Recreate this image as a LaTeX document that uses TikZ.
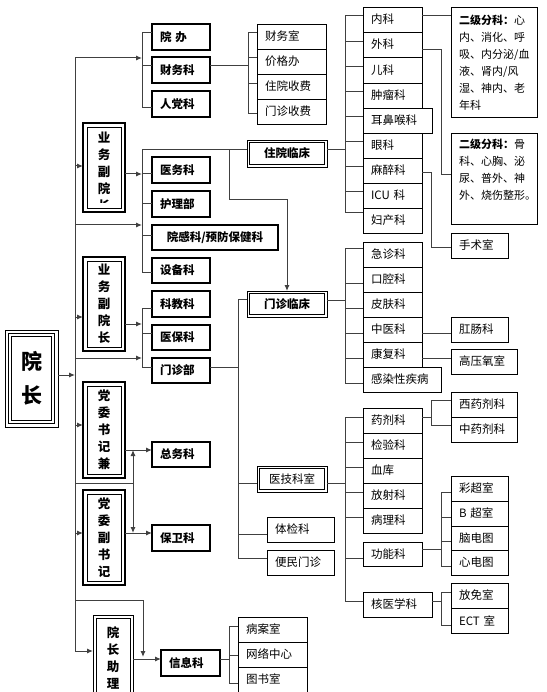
\documentclass[tikz,border=0pt]{standalone}
\usepackage{fontspec}
\setmainfont{Noto Sans CJK SC}
\usetikzlibrary{arrows.meta}
\tikzset{
 ln/.style={draw=black!75, line width=1pt},
 arr/.style={ln, -{Latex[length=6pt,width=5pt]}},
 darr/.style={ln, {Latex[length=6pt,width=5pt]}-{Latex[length=6pt,width=5pt]}},
 bx/.style={draw=black, fill=white, anchor=north west, inner ysep=0pt, inner xsep=8pt, outer sep=0pt, align=left, font=\fontsize{11.5}{13}\selectfont},
 thinbox/.style={bx, line width=0.8pt},
 thickbox/.style={bx, line width=2pt, font=\fontsize{11.5}{13}\selectfont\bfseries},
 thickboxc/.style={thickbox, align=center},
 dblbox/.style={bx, line width=0.8pt, align=center, font=\fontsize{11.5}{13}\selectfont\bfseries},
 dblboxn/.style={bx, line width=0.8pt, align=center},
 vbox/.style={draw=black, fill=white, anchor=north west, inner sep=0pt, outer sep=0pt, line width=2pt, align=center, font=\fontsize{12.5}{17}\selectfont\bfseries},
 zlbox/.style={vbox, line width=0.8pt},
 yzbox/.style={vbox, line width=1pt, font=\fontsize{21}{34}\selectfont\bfseries},
 vtext/.style={inner sep=0pt, align=center, font=\fontsize{12.5}{17}\selectfont\bfseries},
 ejtext/.style={anchor=north west, inner sep=0pt, align=left, font=\fontsize{11}{17}\selectfont},
}
\newcommand\mkbox[7]{%
 \pgfmathsetmacro\myBW{#5-#3-16}\pgfmathsetmacro\myBH{#6-#4}%
 \node[#1, text width=\myBW pt, minimum height=\myBH pt] (#2) at (#3,#4) {#7};}
\newcommand\mkvbox[7]{%
 \pgfmathsetmacro\myBW{#5-#3}\pgfmathsetmacro\myBH{#6-#4}%
 \node[#1, minimum width=\myBW pt, minimum height=\myBH pt] (#2) at (#3,#4) {#7};}
\newcommand\inrect[3]{\draw[line width=#3] ([xshift=#2,yshift=-#2]#1.north west) rectangle ([xshift=-#2,yshift=#2]#1.south east);}
\newcommand\tk[4]{\coordinate (#1) at (#2,#3);\draw[ln] (#1) -- (#1 -| #4.west);}
\newcommand\ta[4]{\coordinate (#1) at (#2,#3);\draw[arr] (#1) -- (#1 -| #4.west);}

\begin{document}
\begin{tikzpicture}[x=1pt,y=-1pt]
\fill[white] (0,0) rectangle (546,692);
\useasboundingbox (0,0) rectangle (546,692);

% ---------- left column ----------
\mkvbox{yzbox}{yz}{5}{330}{58}{427}{院\\长}
\inrect{yz}{3.5pt}{1.8pt}
\inrect{yz}{6.5pt}{0.7pt}

\mkvbox{vbox}{vp1}{83}{123}{125}{212}{}
\inrect{vp1}{4pt}{0.8pt}
\begin{scope}
 \clip (87,127) rectangle (121,203);
 \node[vtext] (vp1t) at (104,172) {业\\务\\副\\院\\长};
\end{scope}
\mkvbox{vbox}{vp2}{83}{257}{125}{351}{业\\务\\副\\院\\长}
\inrect{vp2}{4pt}{0.8pt}
\mkvbox{vbox}{dw1}{83}{382}{125}{478}{党\\委\\书\\记\\兼}
\inrect{dw1}{4pt}{0.8pt}
\mkvbox{vbox}{dw2}{83}{490}{125}{585}{党\\委\\副\\书\\记}
\inrect{dw2}{4pt}{0.8pt}
\mkvbox{zlbox}{zl}{93}{615}{133}{700}{院\\长\\助\\理}
\inrect{zl}{3pt}{0.8pt}

% ---------- thick boxes ----------
\mkbox{thickbox}{yb}{152}{24}{210}{50}{院 办}
\mkbox{thickbox}{cwk}{152}{57}{210}{83}{财务科}
\mkbox{thickbox}{rdk}{152}{91}{210}{117}{人党科}
\mkbox{thickbox}{ywk}{152}{157}{210}{183}{医务科}
\mkbox{thickbox}{hlb}{152}{191}{210}{217}{护理部}
\mkbox{thickboxc}{ygk}{152}{225}{278}{250}{院感科/预防保健科}
\mkbox{thickbox}{sbk}{152}{258}{210}{283}{设备科}
\mkbox{thickbox}{kjk}{152}{291}{210}{317}{科教科}
\mkbox{thickbox}{ybk}{152}{325}{210}{350}{医保科}
\mkbox{thickbox}{mzb}{152}{358}{210}{383}{门诊部}
\mkbox{thickbox}{zwk}{152}{442}{210}{467}{总务科}
\mkbox{thickbox}{bwk}{152}{525}{210}{551}{保卫科}
\mkbox{thickbox}{xxk}{161}{650}{220}{676}{信息科}

% ---------- finance ----------
\mkbox{thinbox}{cws}{257}{24}{326}{49}{财务室}
\mkbox{thinbox}{jgb}{257}{49}{326}{74}{价格办}
\mkbox{thinbox}{zysf}{257}{74}{326}{99}{住院收费}
\mkbox{thinbox}{mzsf}{257}{99}{326}{124}{门诊收费}

% ---------- double boxes ----------
\mkbox{dblbox}{zylc}{247}{140}{327}{167}{住院临床}
\inrect{zylc}{2.8pt}{0.8pt}
\mkbox{dblbox}{mzlc}{247}{291}{327}{317}{门诊临床}
\inrect{mzlc}{2.8pt}{0.8pt}
\mkbox{dblboxn}{yjks}{257}{466}{327}{492}{医技科室}
\inrect{yjks}{2.8pt}{0.8pt}
\mkbox{thinbox}{tjk}{267}{517}{334}{542}{体检科}
\mkbox{thinbox}{bmmz}{267}{550}{334}{575}{便民门诊}

% ---------- inpatient ----------
\mkbox{thinbox}{nk}{363}{7}{422}{32}{内科}
\mkbox{thinbox}{wk}{363}{32}{422}{57}{外科}
\mkbox{thinbox}{ek}{363}{57}{422}{83}{儿科}
\mkbox{thinbox}{zlk}{363}{83}{422}{108}{肿瘤科}
\mkbox{thinbox}{yk}{363}{133}{422}{158}{眼科}
\mkbox{thinbox}{mzk}{363}{158}{422}{183}{麻醉科}
\mkbox{thinbox}{icu}{363}{183}{422}{208}{ICU 科}
\mkbox{thinbox}{fck}{363}{208}{422}{233}{妇产科}
\mkbox{thinbox}{ebh}{363}{108}{432}{133}{耳鼻喉科}
\mkbox{thinbox}{ej1}{451}{7}{537}{117}{}
\node[ejtext] (ej1t) at (459,15) {\textbf{二级分科：}心\\内、消化、呼\\吸、内分泌/血\\液、肾内/风\\湿、神内、老\\年科};
\mkbox{thinbox}{ej2}{451}{133}{537}{224}{}
\node[ejtext] (ej2t) at (459,139) {\textbf{二级分科：}骨\\科、心胸、泌\\尿、普外、神\\外、烧伤整形。};
\mkbox{thinbox}{sss}{451}{233}{508}{258}{手术室}

% ---------- outpatient ----------
\mkbox{thinbox}{jzk}{363}{242}{422}{267}{急诊科}
\mkbox{thinbox}{kqk}{363}{267}{422}{292}{口腔科}
\mkbox{thinbox}{pfk}{363}{292}{422}{317}{皮肤科}
\mkbox{thinbox}{zyk}{363}{317}{422}{342}{中医科}
\mkbox{thinbox}{kfk}{363}{342}{422}{367}{康复科}
\mkbox{thinbox}{crx}{363}{367}{441}{392}{感染性疾病}
\mkbox{thinbox}{gck}{451}{317}{508}{342}{肛肠科}
\mkbox{thinbox}{gyys}{451}{349}{517}{374}{高压氧室}

% ---------- medical technology ----------
\mkbox{thinbox}{yjk}{363}{408}{422}{433}{药剂科}
\mkbox{thinbox}{jyk}{363}{433}{422}{458}{检验科}
\mkbox{thinbox}{xk}{363}{458}{422}{483}{血库}
\mkbox{thinbox}{fsk}{363}{483}{422}{508}{放射科}
\mkbox{thinbox}{blk}{363}{508}{422}{533}{病理科}
\mkbox{thinbox}{gnk}{363}{542}{422}{566}{功能科}
\mkbox{thinbox}{hyx}{363}{592}{432}{617}{核医学科}
\mkbox{thinbox}{xyjk}{451}{392}{517}{417}{西药剂科}
\mkbox{thinbox}{zyjk}{451}{417}{517}{442}{中药剂科}
\mkbox{thinbox}{ccs}{451}{476}{508}{501}{彩超室}
\mkbox{thinbox}{bcs}{451}{501}{508}{526}{B 超室}
\mkbox{thinbox}{ndt}{451}{526}{508}{550}{脑电图}
\mkbox{thinbox}{xdt}{451}{550}{508}{575}{心电图}
\mkbox{thinbox}{fms}{451}{583}{508}{608}{放免室}
\mkbox{thinbox}{ect}{451}{608}{508}{633}{ECT 室}

% ---------- information ----------
\mkbox{thinbox}{bas}{238}{617}{307}{642}{病案室}
\mkbox{thinbox}{wlzx}{238}{642}{307}{667}{网络中心}
\mkbox{thinbox}{tss}{238}{667}{307}{692}{图书室}

% ================= connectors =================
% trunk
\coordinate (trT) at (75,58);
\coordinate (trB) at (75,651);
\draw[ln] (trT) -- (trB);
\draw[arr] (yz.east |- 0,375) -- (trT |- 0,375);

% bracket 1
\tk{B1t}{142}{33}{yb}
\tk{B1m}{142}{66}{cwk}
\tk{B1b}{142}{108}{rdk}
\draw[ln] (B1t) -- (B1b);
\draw[arr] (trT) -- (trT -| B1t);
% finance bracket
\coordinate (FBm) at (248,66);
\draw[ln] (FBm -| cwk.east) -- (FBm);
\tk{FB1}{248}{33}{cws}
\tk{FB2}{248}{58}{jgb}
\tk{FB3}{248}{84}{zysf}
\tk{FB4}{248}{114}{mzsf}
\draw[ln] (FB1) -- (FB4);

% vice president 1
\ta{A1}{75}{166}{vp1}
\tk{B2a}{142}{174}{ywk}
\draw[arr] (B2a -| vp1.east) -- (B2a);
\coordinate (B2t) at (142,150);
\draw[ln] (B2t) -- (B2t -| zylc.west);
\tk{B2b}{142}{204}{hlb}
\coordinate (B2c) at (142,225);
\draw[arr] (B2c -| trT) -- (B2c);
\tk{B2d}{142}{236}{ygk}
\tk{B2e}{142}{272}{sbk}
\draw[ln] (B2t) -- (B2e);
\coordinate (J1) at (229,150);
\coordinate (J2) at (287,200);
\draw[arr] (J1) |- (J2) -- (J2 |- mzlc.north);

% vice president 2
\ta{A2}{75}{317}{vp2}
\coordinate (B3a) at (142,324);
\draw[arr] (B3a -| vp2.east) -- (B3a);
\tk{B3t}{142}{308}{kjk}
\tk{B3b}{142}{333}{ybk}
\coordinate (B3c) at (142,358);
\draw[arr] (B3c -| trT) -- (B3c);
\tk{B3d}{142}{367}{mzb}
\draw[ln] (B3t) -- (B3d);

% outpatient trunk
\coordinate (M3) at (238,367);
\draw[ln] (M3 -| mzb.east) -- (M3);
\coordinate (Mt) at (238,299);
\draw[ln] (Mt) -- (Mt -| mzlc.west);
\tk{Mc}{238}{483}{yjks}
\tk{Md}{238}{534}{tjk}
\tk{Mb}{238}{558}{bmmz}
\draw[ln] (Mt) -- (Mb);

% party secretaries
\ta{A3}{75}{425}{dw1}
\coordinate (Z1) at (133,450);
\coordinate (Z2) at (133,533);
\coordinate (Z3) at (133,483);
\draw[arr] (Z1 -| dw1.east) -- (Z1 -| zwk.west);
\draw[darr] (Z1) -- (Z2);
\draw[ln] (Z3 -| trT) -- (Z3);
\ta{A4}{75}{533}{dw2}
\draw[arr] (Z2 -| dw2.east) -- (Z2 -| bwk.west);

% assistant
\draw[arr] (trB) -- (trB -| zl.west);
\coordinate (Y1) at (75,600);
\coordinate (Y3) at (143,657);
\draw[arr] (Y1) -| (Y3);
\coordinate (Y4) at (133,659);
\draw[arr] (Y4) -- (Y4 -| xxk.west);
\coordinate (X0) at (229,659);
\draw[ln] (X0 -| xxk.east) -- (X0);
\tk{X1}{229}{626}{bas}
\tk{X2}{229}{655}{wlzx}
\tk{X3}{229}{683}{tss}
\draw[ln] (X1) -- (X3);

% inpatient bracket
\coordinate (R1) at (345,150);
\draw[ln] (R1 -| zylc.east) -- (R1);
\tk{R1a}{345}{16}{nk}
\tk{R1b}{345}{42}{wk}
\tk{R1c}{345}{67}{ek}
\tk{R1d}{345}{92}{zlk}
\tk{R1e}{345}{117}{ebh}
\tk{R1f}{345}{142}{yk}
\tk{R1g}{345}{167}{mzk}
\tk{R1h}{345}{192}{icu}
\tk{R1i}{345}{213}{fck}
\draw[ln] (R1a) -- (R1i);
\coordinate (N1) at (422,16);
\draw[ln] (N1) -- (N1 -| ej1.west);
\coordinate (N2) at (422,50);
\coordinate (N2b) at (441,175);
\draw[ln] (N2) -| (N2b) -- (N2b -| ej2.west);
\coordinate (N3) at (422,173);
\coordinate (N3b) at (431,248);
\draw[ln] (N3) -| (N3b) -- (N3b -| sss.west);

% outpatient bracket
\coordinate (R2) at (345,300);
\draw[ln] (R2 -| mzlc.east) -- (R2);
\tk{R2a}{345}{249}{jzk}
\tk{R2b}{345}{283}{kqk}
\tk{R2c}{345}{308}{pfk}
\tk{R2d}{345}{333}{zyk}
\tk{R2e}{345}{358}{kfk}
\tk{R2f}{345}{383}{crx}
\draw[ln] (R2a) -- (R2f);
\coordinate (N4) at (422,333);
\draw[ln] (N4) -- (N4 -| gck.west);
\coordinate (N5) at (422,358);
\draw[ln] (N5) -- (N5 -| gyys.west);

% medical technology bracket
\coordinate (R3) at (345,483);
\draw[ln] (R3 -| yjks.east) -- (R3);
\tk{R3a}{345}{417}{yjk}
\tk{R3b}{345}{442}{jyk}
\tk{R3c}{345}{467}{xk}
\tk{R3d}{345}{492}{fsk}
\tk{R3e}{345}{517}{blk}
\tk{R3f}{345}{558}{gnk}
\tk{R3g}{345}{601}{hyx}
\draw[ln] (R3a) -- (R3g);
\coordinate (P0) at (431,417);
\draw[ln] (P0 -| yjk.east) -- (P0);
\tk{P1}{431}{400}{xyjk}
\tk{P2}{431}{425}{zyjk}
\draw[ln] (P1) -- (P2);
\coordinate (Q0) at (441,549);
\draw[ln] (Q0 -| gnk.east) -- (Q0);
\tk{Q1}{441}{492}{ccs}
\tk{Q2}{441}{517}{bcs}
\tk{Q3}{441}{541}{ndt}
\tk{Q4}{441}{566}{xdt}
\draw[ln] (Q1) -- (Q4);
\coordinate (Q5) at (441,601);
\draw[ln] (Q5 -| hyx.east) -- (Q5);
\tk{Q6}{441}{592}{fms}
\tk{Q7}{441}{625}{ect}
\draw[ln] (Q6) -- (Q7);
\end{tikzpicture}
\end{document}
